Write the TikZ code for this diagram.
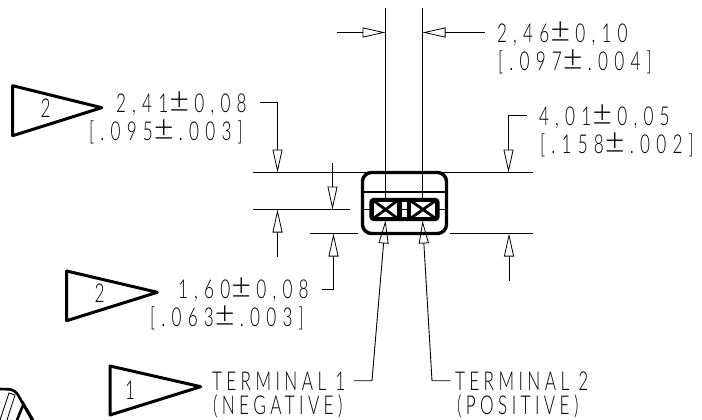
\documentclass[tikz,border=0pt]{standalone}
\usepackage{fontspec}
\usetikzlibrary{arrows.meta}
\newfontfamily\cad[FakeStretch=0.66,LetterSpace=24]{Lato Light}
\newfontfamily\cadw[FakeStretch=0.66,LetterSpace=17]{Lato Light}
\newcommand{\cpm}{\kern1pt\scalebox{1.45}[1]{\fontsize{36}{26}\selectfont ±}\kern5pt\relax}
\tikzset{
  x=1pt,y=-1pt,
  thinline/.style={line width=0.9pt,black},
  dimarrow/.style={thinline,-{Triangle[open,length=23pt,width=10pt,line width=0.8pt]}},
  flag/.style={line width=3pt,line join=round,black},
  pkg/.style={line width=3.4pt,black},
  cadtext/.style={anchor=base west,inner sep=0pt,outer sep=0pt,font=\cad\fontsize{26}{26}\selectfont,text=black},
  cadlabel/.style={anchor=base west,inner sep=0pt,outer sep=0pt,font=\cadw\fontsize{26}{26}\selectfont,text=black},
  flagnum/.style={anchor=center,inner sep=0pt,font=\cadw\fontsize{26}{26}\selectfont,text=black}
}
\begin{document}
\begin{tikzpicture}
\useasboundingbox (0,0) rectangle (702,420);
% extension lines
\draw[thinline] (385.5,8) -- (385.5,198);
\draw[thinline] (422.5,8) -- (422.5,198);
\draw[thinline] (253,172.5) -- (533,172.5);
\draw[thinline] (253,209.5) -- (350,209.5);
\draw[thinline] (310,233) -- (358,233);
\draw[thinline] (450,233) -- (533,233);
% package
\draw[pkg,rounded corners=9pt] (362.5,172.5) rectangle (446.5,233.5);
\draw[line width=2pt] (362.5,191.5) -- (446.5,191.5);
\draw[thinline] (362,209.5) -- (371,209.5);
\draw[thinline] (438,209.5) -- (447,209.5);
\draw[pkg,rounded corners=3pt] (371,199.5) rectangle (438,219.5);
\fill[black] (371,199.5) rectangle (438,219.5);
\fill[white] (374,202) rectangle (397,217);
\fill[white] (401.5,202) rectangle (407,217);
\fill[white] (411,202) rectangle (435,217);
\draw[line width=1pt] (401.5,209.5) -- (407,209.5);
\draw[line width=2.8pt] (374,201) -- (397,218) (374,218) -- (397,201);
\draw[line width=2.8pt] (411,201) -- (435,218) (411,218) -- (435,201);
% horizontal dimension
\coordinate (hl) at (337,32.5); \coordinate (hlt) at (385.5,32.5);
\coordinate (hr) at (485,32.5); \coordinate (hrt) at (422.5,32.5);
\draw[dimarrow] (hl) -- (hlt);
\draw[dimarrow] (hr) -- (hrt);
% vertical dimensions
\draw[dimarrow] (260,102.5) -- (277.5,102.5) -- (277.5,172.5);
\draw[dimarrow] (277.5,257) -- (277.5,209.5);
\draw[dimarrow] (332.5,163) -- (332.5,209.5);
\draw[dimarrow] (321.5,289) -- (333.5,289) -- (333.5,233.5);
\draw[dimarrow] (527,115.5) -- (508.5,115.5) -- (508.5,172.5);
\draw[dimarrow] (509,281) -- (509,233.5);
% terminal leaders
\draw[dimarrow] (354,380.7) -- (372,380.7) -- (385.5,220.5);
\draw[dimarrow] (450.5,380.7) -- (432,380.7) -- (422.5,220.5);
% flags
\draw[flag] (12.7,85.7) -- (12.7,135.7) -- (101.7,107.7) -- cycle;
\draw[flag] (66.7,271) -- (66.7,320.7) -- (157.3,292.3) -- cycle;
\draw[flag] (110,366) -- (110,415) -- (200.7,386.7) -- cycle;
\node[flagnum] (f1) at (45.5,108.5) {2};
\node[flagnum] (f2) at (99.5,293.5) {2};
\node[flagnum] (f3) at (130,390) {1};
% texts
\node[cadtext] (a1) at (116,112.7) {2,41\cpm 0,08};
\node[cadtext] (a2) at (89,140.7) {[.095\cpm .003]};
\node[cadtext] (b1) at (178,298) {1,60\cpm 0,08};
\node[cadtext] (b2) at (150,326.7) {[.063\cpm .003]};
\node[cadtext] (c1) at (497,42.3) {2,46\cpm 0,10};
\node[cadtext] (c2) at (498,71) {[.097\cpm .004]};
\node[cadtext] (d1) at (539,125) {4,01\cpm 0,05};
\node[cadtext] (d2) at (540,153) {[.158\cpm .002]};
\node[cadlabel] (t1) at (212,390) {TERMINAL 1};
\node[cadlabel] (t2) at (213,414.5) {(NEGATIVE)};
\node[cadlabel] (t3) at (455,390) {TERMINAL 2};
\node[cadlabel] (t4) at (457,414.5) {(POSITIVE)};
% cut-off part at the lower left
\draw[line width=2.6pt,rounded corners=6pt] (0,389) -- (15,389.5) -- (32,420);
\draw[line width=2.6pt] (17,420) -- (23.5,404) -- (33,420);
\draw[line width=0.8pt] (0,420) -- (9,393) -- (15,395) -- (7,420);
\end{tikzpicture}
\end{document}
